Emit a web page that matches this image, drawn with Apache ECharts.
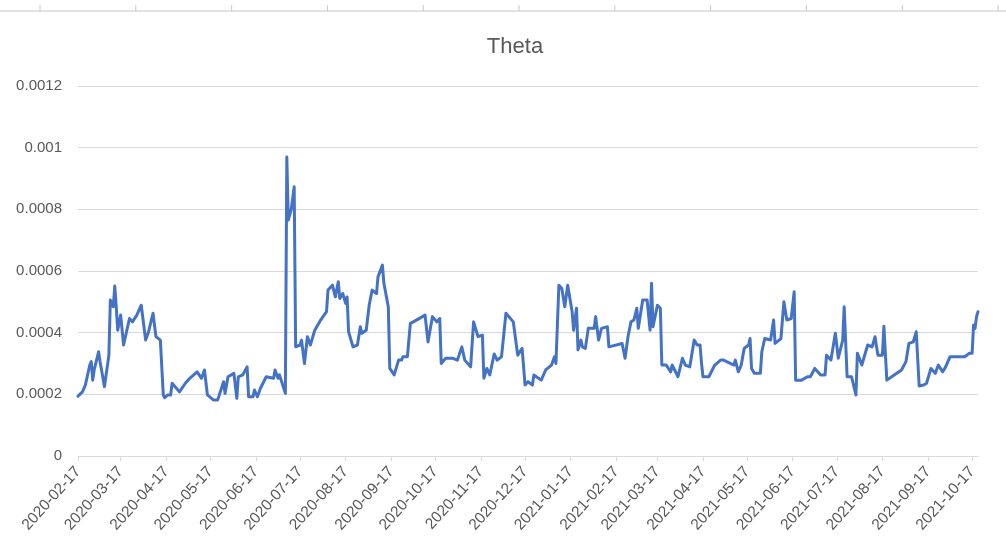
<!DOCTYPE html>
<html>
<head>
<meta charset="utf-8">
<script src="https://cdn.jsdelivr.net/npm/echarts@6/dist/echarts.min.js"></script>
<style>
  html, body { margin: 0; padding: 0; background: #ffffff; }
  #chart { width: 1006px; height: 555px; }
</style>
</head>
<body>
<div id="chart"></div>
<script>
const chartTitle = 'Theta';
const axisStart = '2020-02-17';
const axisEnd = '2021-10-21';
const monthLabels = [
  '2020-02-17','2020-03-17','2020-04-17','2020-05-17','2020-06-17','2020-07-17',
  '2020-08-17','2020-09-17','2020-10-17','2020-11-17','2020-12-17','2021-01-17',
  '2021-02-17','2021-03-17','2021-04-17','2021-05-17','2021-06-17','2021-07-17',
  '2021-08-17','2021-09-17','2021-10-17'
];
const yTicks = [0, 0.0002, 0.0004, 0.0006, 0.0008, 0.001, 0.0012];

const pointDates = [
  '2020-02-17','2020-02-20','2020-02-22','2020-02-25','2020-02-26','2020-02-27','2020-02-28',
  '2020-03-02','2020-03-03','2020-03-04','2020-03-06','2020-03-09','2020-03-10','2020-03-12',
  '2020-03-13','2020-03-14','2020-03-15','2020-03-17','2020-03-19','2020-03-20','2020-03-23',
  '2020-03-25','2020-03-28','2020-03-31','2020-04-03','2020-04-05','2020-04-08','2020-04-10',
  '2020-04-13','2020-04-15','2020-04-16','2020-04-18','2020-04-20','2020-04-21','2020-04-26',
  '2020-04-30','2020-05-03','2020-05-08','2020-05-11','2020-05-13','2020-05-15','2020-05-19',
  '2020-05-22','2020-05-26','2020-05-27','2020-05-29','2020-06-02','2020-06-04','2020-06-05',
  '2020-06-08','2020-06-11','2020-06-12','2020-06-15','2020-06-16','2020-06-18','2020-06-20',
  '2020-06-24','2020-06-29','2020-06-30','2020-07-02','2020-07-03','2020-07-07','2020-07-08',
  '2020-07-09','2020-07-11','2020-07-13','2020-07-14','2020-07-17','2020-07-18','2020-07-20',
  '2020-07-22','2020-07-24','2020-07-27','2020-07-31','2020-08-04','2020-08-05','2020-08-08',
  '2020-08-10','2020-08-12','2020-08-13','2020-08-15','2020-08-17','2020-08-18','2020-08-19',
  '2020-08-22','2020-08-25','2020-08-27','2020-08-28','2020-08-31','2020-09-02','2020-09-04',
  '2020-09-07','2020-09-08','2020-09-11','2020-09-12','2020-09-15','2020-09-16','2020-09-19',
  '2020-09-22','2020-09-24','2020-09-25','2020-09-28','2020-09-30','2020-10-02','2020-10-10',
  '2020-10-12','2020-10-13','2020-10-15','2020-10-18','2020-10-20','2020-10-21','2020-10-24',
  '2020-10-29','2020-11-01','2020-11-04','2020-11-06','2020-11-10','2020-11-12','2020-11-15',
  '2020-11-18','2020-11-19','2020-11-21','2020-11-23','2020-11-24','2020-11-26','2020-11-28',
  '2020-12-01','2020-12-04','2020-12-09','2020-12-12','2020-12-15','2020-12-17','2020-12-19',
  '2020-12-22','2020-12-23','2020-12-28','2020-12-31','2021-01-04','2021-01-06','2021-01-07',
  '2021-01-09','2021-01-11','2021-01-13','2021-01-15','2021-01-18','2021-01-19','2021-01-21',
  '2021-01-22','2021-01-24','2021-01-25','2021-01-27','2021-01-29','2021-02-02','2021-02-03',
  '2021-02-05','2021-02-07','2021-02-11','2021-02-12','2021-02-21','2021-02-23','2021-02-25',
  '2021-02-27','2021-03-01','2021-03-03','2021-03-04','2021-03-07','2021-03-10','2021-03-12',
  '2021-03-13','2021-03-14','2021-03-17','2021-03-19','2021-03-20','2021-03-23','2021-03-26',
  '2021-03-27','2021-03-31','2021-04-03','2021-04-05','2021-04-08','2021-04-11','2021-04-13',
  '2021-04-15','2021-04-16','2021-04-17','2021-04-21','2021-04-25','2021-04-29','2021-05-01',
  '2021-05-08','2021-05-09','2021-05-11','2021-05-13','2021-05-15','2021-05-18','2021-05-19',
  '2021-05-20','2021-05-22','2021-05-26','2021-05-27','2021-05-29','2021-06-02','2021-06-04',
  '2021-06-05','2021-06-09','2021-06-11','2021-06-13','2021-06-16','2021-06-18','2021-06-19',
  '2021-06-23','2021-06-27','2021-06-29','2021-07-02','2021-07-06','2021-07-09','2021-07-10',
  '2021-07-13','2021-07-16','2021-07-18','2021-07-21','2021-07-22','2021-07-24','2021-07-27',
  '2021-07-30','2021-07-31','2021-08-03','2021-08-04','2021-08-07','2021-08-10','2021-08-12',
  '2021-08-13','2021-08-14','2021-08-17','2021-08-18','2021-08-20','2021-08-25','2021-08-30',
  '2021-09-02','2021-09-04','2021-09-07','2021-09-09','2021-09-11','2021-09-14','2021-09-16',
  '2021-09-17','2021-09-19','2021-09-22','2021-09-24','2021-09-27','2021-09-29','2021-10-02',
  '2021-10-12','2021-10-15','2021-10-17','2021-10-18','2021-10-19','2021-10-20','2021-10-21'
];
const thetaValues = [
  0.000194,0.000208,0.000230,0.000295,0.000306,0.000246,0.000279,
  0.000338,0.000306,0.000279,0.000225,0.000327,0.000506,0.000484,
  0.000551,0.000484,0.000408,0.000457,0.000360,0.000354,0.000446,
  0.000435,0.000457,0.000489,0.000376,0.000403,0.000463,0.000387,
  0.000376,0.000198,0.000189,0.000198,0.000198,0.000236,0.000208,
  0.000236,0.000252,0.000273,0.000252,0.000279,0.000198,0.000182,
  0.000182,0.000241,0.000203,0.000257,0.000268,0.000187,0.000257,
  0.000263,0.000289,0.000192,0.000192,0.000214,0.000192,0.000219,
  0.000257,0.000252,0.000279,0.000252,0.000263,0.000203,0.000970,
  0.000765,0.000800,0.000873,0.000354,0.000360,0.000376,0.000300,
  0.000387,0.000360,0.000408,0.000441,0.000468,0.000538,0.000554,
  0.000516,0.000565,0.000511,0.000527,0.000495,0.000516,0.000403,
  0.000354,0.000360,0.000419,0.000398,0.000408,0.000489,0.000538,
  0.000527,0.000581,0.000619,0.000560,0.000484,0.000284,0.000263,
  0.000311,0.000311,0.000322,0.000322,0.000430,0.000435,0.000457,
  0.000370,0.000365,0.000452,0.000435,0.000446,0.000300,0.000317,
  0.000317,0.000311,0.000354,0.000311,0.000289,0.000435,0.000387,
  0.000392,0.000252,0.000284,0.000263,0.000257,0.000331,0.000311,
  0.000322,0.000463,0.000435,0.000327,0.000349,0.000230,0.000241,
  0.000230,0.000263,0.000246,0.000279,0.000295,0.000322,0.000300,
  0.000554,0.000543,0.000484,0.000554,0.000468,0.000408,0.000479,
  0.000344,0.000376,0.000354,0.000349,0.000414,0.000414,0.000452,
  0.000376,0.000414,0.000419,0.000354,0.000365,0.000317,0.000387,
  0.000435,0.000441,0.000479,0.000414,0.000506,0.000506,0.000408,
  0.000560,0.000419,0.000489,0.000479,0.000295,0.000295,0.000273,
  0.000295,0.000257,0.000317,0.000295,0.000289,0.000376,0.000360,
  0.000360,0.000300,0.000257,0.000257,0.000295,0.000311,0.000311,
  0.000295,0.000311,0.000273,0.000295,0.000349,0.000360,0.000381,
  0.000284,0.000268,0.000268,0.000338,0.000381,0.000376,0.000441,
  0.000365,0.000381,0.000500,0.000441,0.000446,0.000533,0.000246,
  0.000246,0.000257,0.000257,0.000284,0.000263,0.000263,0.000327,
  0.000311,0.000398,0.000317,0.000376,0.000484,0.000257,0.000257,
  0.000198,0.000333,0.000295,0.000289,0.000360,0.000354,0.000387,
  0.000354,0.000327,0.000327,0.000421,0.000246,0.000263,0.000279,
  0.000306,0.000365,0.000370,0.000403,0.000227,0.000230,0.000236,
  0.000230,0.000284,0.000268,0.000295,0.000273,0.000289,0.000322,
  0.000322,0.000333,0.000333,0.000425,0.000414,0.000452,0.000468
];

// build daily category axis (Excel-like date axis)
function buildDays(a, b) {
  const out = [];
  const d = new Date(a + 'T00:00:00Z');
  const e = new Date(b + 'T00:00:00Z');
  while (d <= e) {
    out.push(d.toISOString().slice(0, 10));
    d.setUTCDate(d.getUTCDate() + 1);
  }
  return out;
}
const days = buildDays(axisStart, axisEnd);
const valueByDate = {};
pointDates.forEach((dt, i) => { valueByDate[dt] = thetaValues[i]; });
const seriesData = days.map(dt => (dt in valueByDate ? valueByDate[dt] : null));
const isMonthLabel = (idx, val) => monthLabels.indexOf(val) !== -1;

const FONT = "'Liberation Sans', 'DejaVu Sans', sans-serif";
const chart = echarts.init(document.getElementById('chart'), null, { renderer: 'canvas' });

// decorative spreadsheet ruler at the very top
const rulerTicks = [];
for (let i = 0; i < 11; i++) {
  const x = 40 + i * 95.8;
  rulerTicks.push({ type: 'line', shape: { x1: x, y1: 5, x2: x, y2: 11 }, style: { stroke: '#c8c8c8', lineWidth: 1 }, silent: true });
}

chart.setOption({
  backgroundColor: '#ffffff',
  animation: false,
  title: {
    text: chartTitle,
    left: 510,
    top: 31,
    textAlign: 'center',
    textStyle: { fontFamily: FONT, fontSize: 22, fontWeight: 'normal', color: '#595959' }
  },
  graphic: [
    { type: 'line', shape: { x1: 0, y1: 11, x2: 1006, y2: 11 }, style: { stroke: '#d9d9d9', lineWidth: 1.5 }, silent: true }
  ].concat(rulerTicks),
  grid: { left: 78, right: 28, top: 86, bottom: 99, containLabel: false },
  xAxis: {
    type: 'category',
    data: days,
    boundaryGap: false,
    axisLine: { show: true, lineStyle: { color: '#d9d9d9', width: 1 } },
    axisTick: { show: true, interval: isMonthLabel, length: 5, lineStyle: { color: '#d9d9d9' } },
    axisLabel: {
      interval: isMonthLabel,
      rotate: 48,
      margin: 13,
      color: '#595959',
      fontFamily: FONT,
      fontSize: 15.5
    },
    splitLine: { show: false }
  },
  yAxis: {
    type: 'value',
    min: yTicks[0],
    max: yTicks[yTicks.length - 1],
    interval: yTicks[1] - yTicks[0],
    axisLine: { show: false },
    axisTick: { show: false },
    axisLabel: {
      margin: 16,
      color: '#595959',
      fontFamily: FONT,
      fontSize: 15,
      formatter: v => String(+Number(v).toFixed(6))
    },
    splitLine: { show: true, lineStyle: { color: '#d9d9d9', width: 1 } }
  },
  series: [{
    name: chartTitle,
    type: 'line',
    data: seriesData,
    connectNulls: true,
    showSymbol: false,
    symbol: 'none',
    lineStyle: { color: '#4472C4', width: 3, join: 'round', cap: 'round' },
    itemStyle: { color: '#4472C4' }
  }]
});
</script>
</body>
</html>
